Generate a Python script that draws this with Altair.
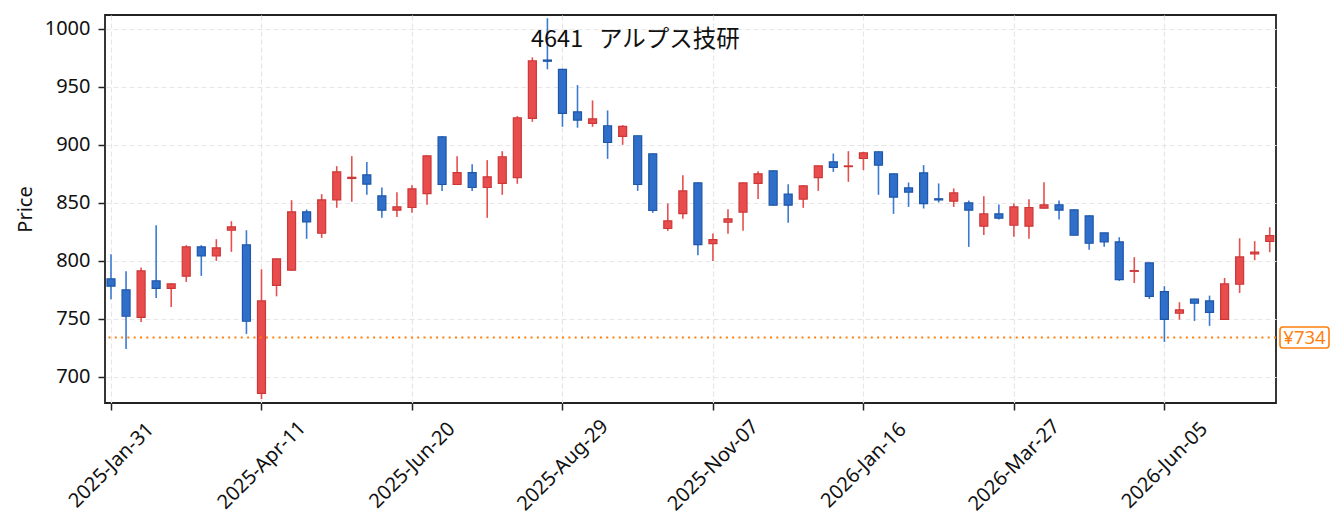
import datetime as dt
import pandas as pd
import altair as alt

# ---------------- data ----------------
start = dt.date(2025, 1, 31)
dates = [(start + dt.timedelta(weeks=i)).strftime("%Y-%m-%d") for i in range(78)]

opens = [784.5, 775.0, 751.4, 782.8, 776.4, 786.8, 812.1, 804.3, 826.4, 813.8,
         685.9, 779.0, 792.0, 842.2, 823.8, 852.6, 871.0, 874.1, 856.0, 843.7,
         846.0, 858.0, 906.9, 865.8, 876.1, 863.2, 866.7, 871.8, 922.7, 973.0,
         964.9, 928.4, 918.4, 916.4, 907.2, 907.8, 892.2, 827.9, 840.8, 867.2,
         814.9, 833.3, 842.0, 866.7, 877.6, 857.5, 853.2, 871.8, 885.3, 881.2,
         888.2, 894.0, 875.0, 862.9, 875.9, 853.5, 851.4, 850.0, 829.9, 840.5,
         830.7, 829.9, 845.4, 848.3, 844.0, 838.8, 824.1, 816.4, 791.0, 798.3,
         773.6, 754.9, 767.2, 765.5, 749.7, 779.9, 806.0, 816.7]
highs = [805.7, 791.1, 794.3, 830.7, 780.5, 813.5, 813.5, 818.7, 834.2, 826.4,
         792.8, 802.0, 852.3, 844.3, 857.5, 881.6, 890.2, 885.1, 863.2, 859.2,
         865.2, 891.0, 907.5, 890.2, 883.3, 886.8, 894.5, 924.7, 975.3, 1009.0,
         965.5, 951.4, 938.2, 929.6, 917.0, 908.0, 892.5, 849.4, 873.8, 867.5,
         823.6, 844.5, 867.5, 877.3, 878.0, 866.1, 865.2, 882.0, 892.5, 894.5,
         894.0, 894.3, 875.3, 867.5, 882.5, 866.7, 862.4, 852.0, 855.7, 848.6,
         849.4, 853.2, 867.8, 852.0, 844.3, 839.0, 824.3, 820.4, 803.2, 798.5,
         778.2, 764.4, 767.5, 770.1, 785.3, 819.5, 817.0, 829.0]
lows = [767.0, 724.1, 747.4, 768.1, 760.3, 781.9, 787.1, 800.0, 807.8, 737.1,
        681.0, 769.5, 791.5, 819.0, 819.8, 845.7, 850.9, 856.9, 837.1, 837.9,
        841.4, 848.3, 860.3, 865.5, 860.3, 837.1, 856.9, 866.4, 919.8, 965.0,
        915.5, 914.7, 915.5, 887.9, 900.0, 860.3, 841.4, 825.9, 836.2, 804.9,
        800.0, 823.3, 825.9, 853.4, 847.8, 832.8, 845.7, 860.3, 876.7, 868.1,
        878.2, 856.9, 840.5, 846.5, 845.1, 850.3, 846.5, 812.1, 822.4, 835.6,
        820.7, 819.0, 845.0, 835.6, 821.8, 809.5, 812.1, 782.8, 781.0, 767.2,
        730.2, 749.4, 748.3, 744.0, 749.5, 772.4, 800.6, 807.5]
closes = [778.2, 752.3, 791.4, 776.4, 780.2, 812.1, 804.3, 811.2, 829.3, 748.0,
          765.5, 801.7, 842.2, 833.6, 852.6, 876.7, 872.0, 866.1, 843.7, 846.5,
          862.1, 890.5, 865.8, 876.1, 863.2, 872.4, 889.7, 923.3, 972.4, 972.0,
          927.0, 921.3, 922.4, 902.0, 915.8, 865.8, 843.4, 834.5, 860.3, 814.1,
          818.4, 836.2, 867.2, 875.0, 848.0, 848.0, 864.7, 881.9, 880.5, 881.8,
          893.1, 882.5, 854.9, 859.2, 849.4, 852.5, 858.6, 843.7, 840.5, 836.8,
          846.5, 846.0, 848.3, 843.7, 822.1, 815.2, 816.4, 783.9, 791.6, 769.5,
          749.7, 757.8, 763.5, 755.7, 780.2, 803.4, 807.5, 821.8]

price_ticks = [700, 750, 800, 850, 900, 950, 1000]
date_tick_every = 10
ref_price = 734
ref_label = "¥734"
title_text = "4641\u00a0\u00a0\u00a0アルプス技研"
y_label = "Price"

df = pd.DataFrame({"date": dates, "open": opens, "high": highs,
                   "low": lows, "close": closes})
df["dir"] = ["up" if c >= o else "down" for o, c in zip(opens, closes)]

# ---------------- styling ----------------
W, H = 1171, 388
RED_FILL, RED_STROKE, RED_WICK = "#e84c4c", "#cc3838", "#e4504e"
BLUE_FILL, BLUE_STROKE, BLUE_WICK = "#2f6fca", "#1f56a8", "#3a7ad2"
ORANGE = "#ff7f0e"
FONT = "Noto Sans"


def d2dt(s, hours=0):
    y, m, d = (int(p) for p in s.split("-"))
    return alt.DateTime(year=y, month=m, date=d, hours=hours, utc=True)


x_scale = alt.Scale(type="utc", padding=0,
                    domain=[alt.DateTime(year=2025, month=1, date=28, hours=5, utc=True),
                            alt.DateTime(year=2026, month=7, date=26, hours=22, utc=True)])
x_axis = alt.Axis(values=[d2dt(s) for s in dates[::date_tick_every]],
                  labelExpr="utcFormat(datum.value, '%Y-%b-%d')",
                  labelAngle=-45, labelAlign="center", labelBaseline="middle",
                  labelPadding=55, labelFlush=False, labelOverlap=False,
                  title=None)
y_scale = alt.Scale(domain=[677.6, 1011.8], nice=False, zero=False)
y_axis = alt.Axis(values=price_ticks, title=y_label, format="d")

dir_dom = ["up", "down"]
base = alt.Chart(df)

wicks = base.mark_rule(strokeWidth=1.6).encode(
    x=alt.X("date:T", scale=x_scale, axis=x_axis),
    y=alt.Y("low:Q", scale=y_scale, axis=y_axis, title=y_label),
    y2="high:Q",
    color=alt.Color("dir:N", scale=alt.Scale(domain=dir_dom, range=[RED_WICK, BLUE_WICK]),
                    legend=None),
)

bodies = base.mark_bar(size=8, strokeWidth=1.2).encode(
    x=alt.X("date:T", scale=x_scale, axis=x_axis),
    y=alt.Y("open:Q", scale=y_scale, axis=y_axis, title=y_label),
    y2="close:Q",
    fill=alt.Fill("dir:N", scale=alt.Scale(domain=dir_dom, range=[RED_FILL, BLUE_FILL]),
                  legend=None),
    stroke=alt.Stroke("dir:N", scale=alt.Scale(domain=dir_dom, range=[RED_STROKE, BLUE_STROKE]),
                      legend=None),
)

ref_df = pd.DataFrame({"price": [ref_price], "label": [ref_label],
                       "top": [ref_price + 9.05], "bot": [ref_price - 9.05]})

ref_line = alt.Chart(ref_df).mark_rule(color=ORANGE, strokeWidth=1.8,
                                        strokeDash=[2, 4.3]).encode(
    y=alt.Y("price:Q", scale=y_scale, axis=y_axis, title=y_label),
)

ref_box = alt.Chart(ref_df).mark_rect(fill="white", stroke=ORANGE, strokeWidth=1.6,
                                       cornerRadius=3).encode(
    x=alt.value(W + 4), x2=alt.value(W + 53),
    y=alt.Y("top:Q", scale=y_scale, axis=y_axis, title=y_label),
    y2="bot:Q",
)

ref_text = alt.Chart(ref_df).mark_text(color=ORANGE, font=FONT, fontSize=18.5,
                                        align="center", baseline="middle").encode(
    x=alt.value(W + 28.5),
    y=alt.Y("price:Q", scale=y_scale, axis=y_axis, title=y_label),
    text="label:N",
)

title_df = pd.DataFrame({"t": [title_text]})
title = alt.Chart(title_df).mark_text(font="Noto Sans CJK JP", fontSize=23.5,
                                       color="#111", align="left",
                                       baseline="alphabetic").encode(
    x=alt.value(426.0), y=alt.value(32.3), text="t:N",
)

chart = alt.layer(wicks, bodies, ref_line, ref_box, ref_text, title).properties(
    width=W, height=H,
    autosize=alt.AutoSizeParams(type="none"),
    padding={"left": 97, "top": 7, "right": 55, "bottom": 118},
    background="white",
).configure_view(
    stroke="#222", strokeWidth=1.8,
).configure_axis(
    domain=False,
    grid=True, gridColor="#e6e6e6", gridDash=[5, 3], gridWidth=1.2,
    tickColor="#222", tickWidth=1.5, tickSize=7,
    labelFont=FONT, labelFontSize=20, labelColor="#111",
    titleFont=FONT, titleFontSize=20, titleFontWeight="normal", titleColor="#111",
).configure_axisY(
    labelPadding=8, titlePadding=9,
)

chart.save("out.html", embed_options={"renderer": "svg", "actions": False})
